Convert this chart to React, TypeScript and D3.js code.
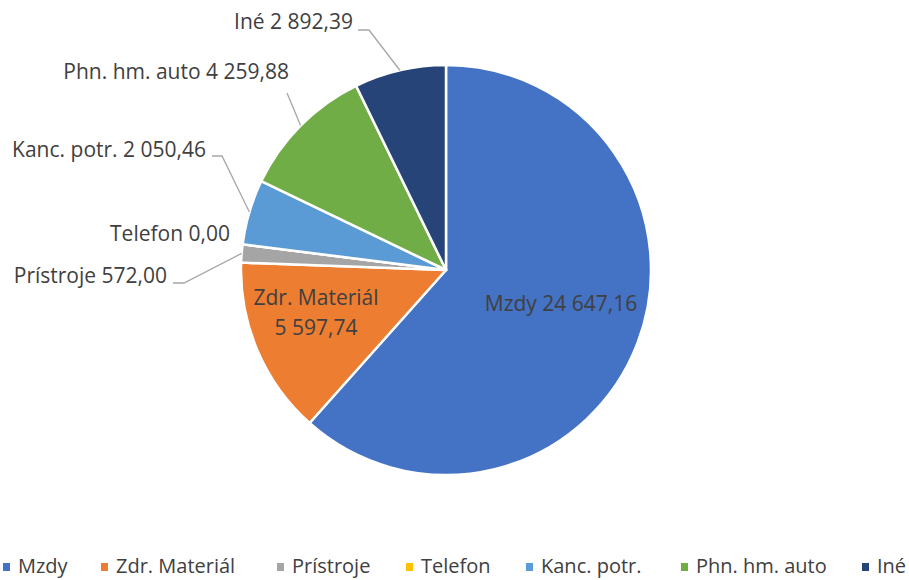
import React from "react";
import * as d3 from "d3";

const categories = ["Mzdy", "Zdr. Materiál", "Prístroje", "Telefon", "Kanc. potr.", "Phn. hm. auto", "Iné"];
const values = [24647.16, 5597.74, 572.0, 0.0, 2050.46, 4259.88, 2892.39];
const valueLabels = ["24 647,16", "5 597,74", "572,00", "0,00", "2 050,46", "4 259,88", "2 892,39"];
const colors = ["#4472C4", "#ED7D31", "#A5A5A5", "#FFC000", "#5B9BD5", "#70AD47", "#264478"];

const W = 909, H = 580;
const cx = 446, cy = 270, R = 205;
const FONT = "'Open Sans', sans-serif";
const FS = 21;
const TEXT = "#404040";

type Lay = { mode: string; x: number; y: number; lx?: number; ly?: number; stub?: number; twoLine?: boolean };
const layout: Lay[] = [
  { mode: "in", x: 561, y: 311 },
  { mode: "in", x: 316, y: 305, twoLine: true },
  { mode: "out", x: 167, y: 283, lx: 173, ly: 283, stub: 11 },
  { mode: "out", x: 230, y: 241 },
  { mode: "out", x: 206, y: 157, lx: 212, ly: 156, stub: 10 },
  { mode: "out", x: 289, y: 79, lx: 287, ly: 93, stub: 0 },
  { mode: "out", x: 353, y: 29, lx: 358, ly: 30, stub: 11 },
];

const legendX = [3, 101, 277, 406, 526, 681, 862];

export default function App() {
  const pie = d3.pie<number>().sort(null).value((d) => d)(values);
  const arc = d3.arc<d3.PieArcDatum<number>>().innerRadius(0).outerRadius(R);
  return (
    <svg width={W} height={H} style={{ position: "absolute", left: 0, top: 0, background: "#fff" }}>
      <rect width={W} height={H} fill="#fff" />
      <g transform={`translate(${cx},${cy})`}>
        {pie.map((p, i) => (
          <path key={i} d={arc(p) || ""} fill={colors[i]} stroke="#fff" strokeWidth={2.5} strokeLinejoin="round" />
        ))}
      </g>
      {pie.map((p, i) => {
        const L = layout[i];
        const mid = (p.startAngle + p.endAngle) / 2;
        const ex = cx + R * Math.sin(mid);
        const ey = cy - R * Math.cos(mid);
        if (L.mode === "in") {
          if (L.twoLine) {
            return (
              <text key={i} fontFamily={FONT} fontSize={FS} fill={TEXT} textAnchor="middle">
                <tspan x={L.x} y={L.y}>{categories[i]}</tspan>
                <tspan x={L.x} y={L.y + 30}>{valueLabels[i]}</tspan>
              </text>
            );
          }
          return (
            <text key={i} x={L.x} y={L.y} fontFamily={FONT} fontSize={FS} fill={TEXT} textAnchor="middle">
              {categories[i] + " " + valueLabels[i]}
            </text>
          );
        }
        return (
          <g key={i}>
            <text x={L.x} y={L.y} fontFamily={FONT} fontSize={FS} fill={TEXT} textAnchor="end">
              {categories[i] + " " + valueLabels[i]}
            </text>
            {L.lx !== undefined && (
              <polyline
                points={`${L.lx},${L.ly} ${L.lx! + (L.stub || 0)},${L.ly} ${ex},${ey}`}
                fill="none"
                stroke="#A6A6A6"
                strokeWidth={1.3}
              />
            )}
          </g>
        );
      })}
      {categories.map((c, i) => (
        <g key={c}>
          <rect x={legendX[i]} y={563} width={7} height={8} fill={colors[i]} />
          <text x={legendX[i] + 15} y={573} fontFamily={FONT} fontSize={20} fill={TEXT}>{c}</text>
        </g>
      ))}
    </svg>
  );
}
